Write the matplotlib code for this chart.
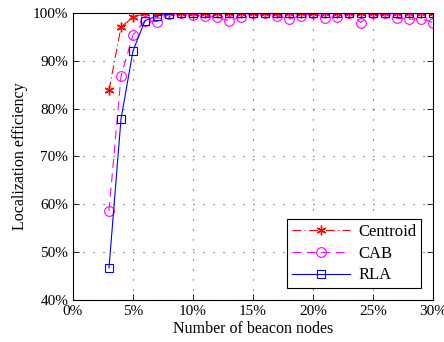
import matplotlib
matplotlib.use("Agg")
import matplotlib.pyplot as plt
from matplotlib.ticker import FuncFormatter

plt.rcParams['font.family'] = ['Liberation Serif', 'DejaVu Serif']
plt.rcParams['font.size'] = 11

# beacon node percentage (x) and localization efficiency (%) per method
beacons = list(range(3, 31))
centroid = [83.8, 97.1, 99.1, 99.9] + [100.0] * 24
cab = [58.6, 86.8, 95.4, 98.4, 98.2, 99.8, 100.0, 99.6, 99.3, 99.1, 98.4, 99.1,
       100.0, 100.0, 99.4, 98.7, 99.4, 100.0, 99.0, 99.1, 100.0, 98.0, 100.0,
       100.0, 98.9, 98.7, 98.8, 98.0]
rla = [46.7, 77.8, 92.1, 98.4, 99.4, 99.8] + [100.0] * 22

fig = plt.figure(figsize=(4.44, 3.42), dpi=100)
ax = fig.add_axes([0.1644, 0.1228, 0.8108, 0.8392])

ax.plot(beacons, centroid, color='red', linestyle=(0, (8, 3, 1, 3)), linewidth=0.8,
        marker=(6, 2, 0), markersize=7, markeredgecolor='red', markeredgewidth=1.0,
        label='Centroid')
ax.plot(beacons, cab, color='magenta', linestyle=(0, (8, 5)), linewidth=0.8,
        marker='o', markersize=7, markerfacecolor='none', markeredgewidth=0.8,
        label='CAB')
ax.plot(beacons, rla, color='blue', linestyle='-', linewidth=0.8,
        marker='s', markersize=6, markerfacecolor='none', markeredgewidth=0.8,
        label='RLA')

ax.set_xlim(0, 30)
ax.set_ylim(40, 100)
ax.set_xticks(range(0, 31, 5))
ax.set_yticks(range(40, 101, 10))
pct = FuncFormatter(lambda v, p: f"{v:.0f}%")
ax.xaxis.set_major_formatter(pct)
ax.yaxis.set_major_formatter(pct)
ax.tick_params(direction='in', top=True, right=True, length=4, width=0.6)
for s in ax.spines.values():
    s.set_linewidth(0.8)
ax.grid(True, linestyle=(0, (1, 8)), color='#444444', linewidth=0.8)

ax.set_xlabel('Number of beacon nodes', labelpad=2, fontsize=11.5)
ax.set_ylabel('Localization efficiency', labelpad=3, fontsize=11.5)

leg = ax.legend(loc='lower right', numpoints=1, handlelength=3.5, fancybox=False,
                edgecolor='black', framealpha=1, borderaxespad=0.7,
                labelspacing=0.35, handletextpad=0.5, fontsize=12,
                borderpad=0.3)
leg.get_frame().set_linewidth(0.8)

fig.savefig('out.png', dpi=100)
